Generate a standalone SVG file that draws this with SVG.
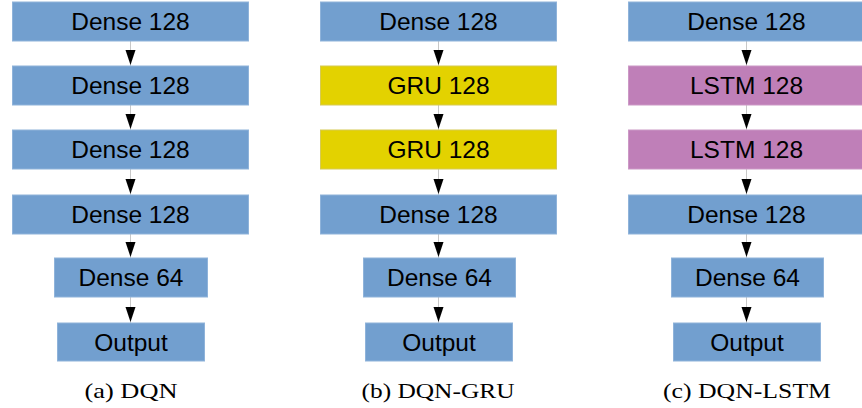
<svg xmlns="http://www.w3.org/2000/svg" width="862" height="408" viewBox="0 0 862 408">
<style>
.box{stroke-width:1}
.dense{fill:#729fcf;stroke:#8fb3da}
.gru{fill:#e3d200;stroke:#d6ca55}
.lstm{fill:#bf7fb8;stroke:#cc99c6}
.lbl{font-family:"Liberation Sans",Arial,sans-serif;font-size:24.5px;fill:#000;text-anchor:middle}
.cap{font-family:"Liberation Serif","Times New Roman",serif;font-size:21px;fill:#000;text-anchor:middle}
.conn{stroke:#c8c8c8;stroke-width:1;fill:none}
.head{fill:#000}
</style>
<rect width="862" height="408" fill="#fff"/>
<g id="connectors">
  <g>
    <line class="conn" x1="130.5" y1="41" x2="130.5" y2="66"/><polygon class="head" points="125.5,50 135.5,50 130.5,65"/>
    <line class="conn" x1="130.5" y1="105" x2="130.5" y2="130"/><polygon class="head" points="125.5,114 135.5,114 130.5,129"/>
    <line class="conn" x1="130.5" y1="169" x2="130.5" y2="195"/><polygon class="head" points="125.5,179 135.5,179 130.5,194"/>
    <line class="conn" x1="130.5" y1="234" x2="130.5" y2="258"/><polygon class="head" points="125.5,242 135.5,242 130.5,257"/>
    <line class="conn" x1="130.5" y1="297" x2="130.5" y2="323"/><polygon class="head" points="125.5,307 135.5,307 130.5,322"/>
  </g>
  <g>
    <line class="conn" x1="438.5" y1="41" x2="438.5" y2="66"/><polygon class="head" points="433.5,50 443.5,50 438.5,65"/>
    <line class="conn" x1="438.5" y1="105" x2="438.5" y2="130"/><polygon class="head" points="433.5,114 443.5,114 438.5,129"/>
    <line class="conn" x1="438.5" y1="169" x2="438.5" y2="195"/><polygon class="head" points="433.5,179 443.5,179 438.5,194"/>
    <line class="conn" x1="438.5" y1="234" x2="438.5" y2="258"/><polygon class="head" points="433.5,242 443.5,242 438.5,257"/>
    <line class="conn" x1="438.5" y1="297" x2="438.5" y2="323"/><polygon class="head" points="433.5,307 443.5,307 438.5,322"/>
  </g>
  <g>
    <line class="conn" x1="746.5" y1="41" x2="746.5" y2="66"/><polygon class="head" points="741.5,50 751.5,50 746.5,65"/>
    <line class="conn" x1="746.5" y1="105" x2="746.5" y2="130"/><polygon class="head" points="741.5,114 751.5,114 746.5,129"/>
    <line class="conn" x1="746.5" y1="169" x2="746.5" y2="195"/><polygon class="head" points="741.5,179 751.5,179 746.5,194"/>
    <line class="conn" x1="746.5" y1="234" x2="746.5" y2="258"/><polygon class="head" points="741.5,242 751.5,242 746.5,257"/>
    <line class="conn" x1="746.5" y1="297" x2="746.5" y2="323"/><polygon class="head" points="741.5,307 751.5,307 746.5,322"/>
  </g>
</g>
<g id="a1"><rect class="box dense" x="12.5" y="2" width="236" height="39"/><text class="lbl" x="130.5" y="30">Dense 128</text></g>
<g id="a2"><rect class="box dense" x="12.5" y="66" width="236" height="39"/><text class="lbl" x="130.5" y="94">Dense 128</text></g>
<g id="a3"><rect class="box dense" x="12.5" y="130" width="236" height="39"/><text class="lbl" x="130.5" y="158">Dense 128</text></g>
<g id="a4"><rect class="box dense" x="12.5" y="195" width="236" height="39"/><text class="lbl" x="130.5" y="223">Dense 128</text></g>
<g id="a5"><rect class="box dense" x="54.5" y="258" width="153" height="39"/><text class="lbl" x="131" y="286">Dense 64</text></g>
<g id="a6"><rect class="box dense" x="57.5" y="323" width="147" height="38"/><text class="lbl" x="131" y="351">Output</text></g>
<text class="cap" x="131" y="398" textLength="93" lengthAdjust="spacingAndGlyphs">(a) DQN</text>
<g id="b1"><rect class="box dense" x="320.5" y="2" width="236" height="39"/><text class="lbl" x="438.5" y="30">Dense 128</text></g>
<g id="b2"><rect class="box gru" x="320.5" y="66" width="236" height="39"/><text class="lbl" x="438.5" y="94">GRU 128</text></g>
<g id="b3"><rect class="box gru" x="320.5" y="130" width="236" height="39"/><text class="lbl" x="438.5" y="158">GRU 128</text></g>
<g id="b4"><rect class="box dense" x="320.5" y="195" width="236" height="39"/><text class="lbl" x="438.5" y="223">Dense 128</text></g>
<g id="b5"><rect class="box dense" x="363.5" y="258" width="152" height="39"/><text class="lbl" x="439.5" y="286">Dense 64</text></g>
<g id="b6"><rect class="box dense" x="365.5" y="323" width="147" height="38"/><text class="lbl" x="439" y="351">Output</text></g>
<text class="cap" x="438" y="398" textLength="153" lengthAdjust="spacingAndGlyphs">(b) DQN-GRU</text>
<g id="c1"><rect class="box dense" x="628.5" y="2" width="236" height="39"/><text class="lbl" x="746.5" y="30">Dense 128</text></g>
<g id="c2"><rect class="box lstm" x="628.5" y="66" width="236" height="39"/><text class="lbl" x="746.5" y="94">LSTM 128</text></g>
<g id="c3"><rect class="box lstm" x="628.5" y="130" width="236" height="39"/><text class="lbl" x="746.5" y="158">LSTM 128</text></g>
<g id="c4"><rect class="box dense" x="628.5" y="195" width="236" height="39"/><text class="lbl" x="746.5" y="223">Dense 128</text></g>
<g id="c5"><rect class="box dense" x="671.5" y="258" width="152" height="39"/><text class="lbl" x="747.5" y="286">Dense 64</text></g>
<g id="c6"><rect class="box dense" x="673.5" y="323" width="147" height="38"/><text class="lbl" x="747" y="351">Output</text></g>
<text class="cap" x="747" y="398" textLength="168" lengthAdjust="spacingAndGlyphs">(c) DQN-LSTM</text>
</svg>
